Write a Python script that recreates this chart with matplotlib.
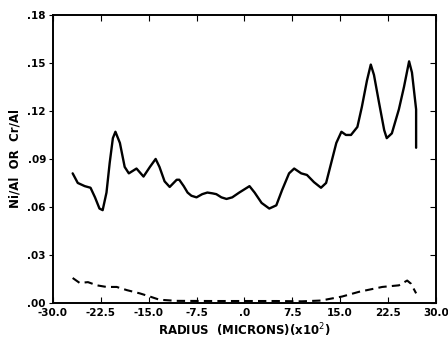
import matplotlib
matplotlib.use("Agg")
import matplotlib.pyplot as plt

# solid curve (Ni/Al)
ni_x = [-26.9, -26.1, -25.0, -24.1, -23.4, -22.7, -22.2, -21.6, -21.1, -20.6,
        -20.2, -19.5, -18.75, -18.1, -16.9, -15.8, -14.8, -13.9, -13.3, -12.5,
        -11.7, -10.6, -10.2, -9.5, -8.9, -8.3, -7.5, -6.6, -5.8, -5.0,
        -4.4, -3.6, -2.8, -1.9, -0.8, 0.8, 1.6, 2.7, 3.9, 5.0,
        5.9, 7.0, 7.8, 8.9, 9.8, 10.9, 12.0, 12.8, 13.6, 14.4,
        15.2, 15.9, 16.7, 17.7, 18.4, 19.2, 19.8, 20.3, 21.1, 21.9,
        22.3, 23.1, 24.2, 25.0, 25.8, 26.25, 26.9, 26.9]
ni_y = [0.081, 0.075, 0.073, 0.072, 0.066, 0.059, 0.058, 0.069, 0.0875, 0.103,
        0.107, 0.100, 0.085, 0.081, 0.084, 0.079, 0.085, 0.090, 0.085, 0.076,
        0.0725, 0.077, 0.077, 0.073, 0.069, 0.067, 0.066, 0.068, 0.069, 0.0685,
        0.068, 0.066, 0.065, 0.066, 0.069, 0.073, 0.069, 0.0625, 0.059, 0.061,
        0.0705, 0.081, 0.084, 0.081, 0.080, 0.0755, 0.072, 0.075, 0.0875, 0.100,
        0.107, 0.105, 0.105, 0.110, 0.1225, 0.139, 0.149, 0.1425, 0.125, 0.108,
        0.103, 0.106, 0.121, 0.135, 0.151, 0.144, 0.121, 0.097]

# dashed curve (Cr/Al)
cr_x = [-26.9, -25.8, -24.5, -23.1, -21.6, -20.0, -18.4, -16.4, -14.8, -13.3,
        -10.6, -5.0, 0.0, 5.0, 9.0, 12.0, 15.3, 18.0, 21.6, 24.2,
        25.5, 26.1, 26.9]
cr_y = [0.0156, 0.0125, 0.013, 0.011, 0.010, 0.010, 0.008, 0.006, 0.004, 0.002,
        0.0013, 0.0012, 0.0012, 0.0012, 0.0010, 0.0015, 0.004, 0.007, 0.010, 0.011,
        0.014, 0.012, 0.006]

x_ticks = [-30, -22.5, -15, -7.5, 0, 7.5, 15, 22.5, 30]
x_labels = ["-30.0", "-22.5", "-15.0", "-7.5", ".0", "7.5", "15.0", "22.5", "30.0"]
y_ticks = [0, 0.03, 0.06, 0.09, 0.12, 0.15, 0.18]
y_labels = [".00", ".03", ".06", ".09", ".12", ".15", ".18"]

fig = plt.figure(figsize=(4.48, 3.4), dpi=100)
ax = fig.add_axes([0.118, 0.109, 0.855, 0.847])

ax.plot(ni_x, ni_y, color="black", lw=1.7, solid_capstyle="round",
        solid_joinstyle="round")
ax.plot(cr_x, cr_y, color="black", lw=1.5, dashes=(4, 2.5))

ax.set_xlim(-30, 30)
ax.set_ylim(0, 0.18)
ax.set_xticks(x_ticks)
ax.set_xticklabels(x_labels, fontsize=7.5, fontweight="bold")
ax.set_yticks(y_ticks)
ax.set_yticklabels(y_labels, fontsize=7.5, fontweight="bold")

ax.tick_params(axis="x", direction="in", length=4, top=True, pad=4)
ax.tick_params(axis="y", direction="out", length=3, right=False, pad=2)
# inward ticks on the right side
ax2 = ax.twinx()
ax2.set_ylim(0, 0.18)
ax2.set_yticks(y_ticks)
ax2.set_yticklabels([])
ax2.tick_params(axis="y", direction="in", length=4)

for a in (ax, ax2):
    for s in a.spines.values():
        s.set_linewidth(1.2)

ax.set_xlabel("RADIUS  (MICRONS)(x10$^{2}$)", fontsize=8.5, fontweight="bold", labelpad=2)
ax.set_ylabel("Ni/Al  OR  Cr/Al", fontsize=8.5, fontweight="bold", labelpad=4)

fig.savefig("out.png", dpi=100)
